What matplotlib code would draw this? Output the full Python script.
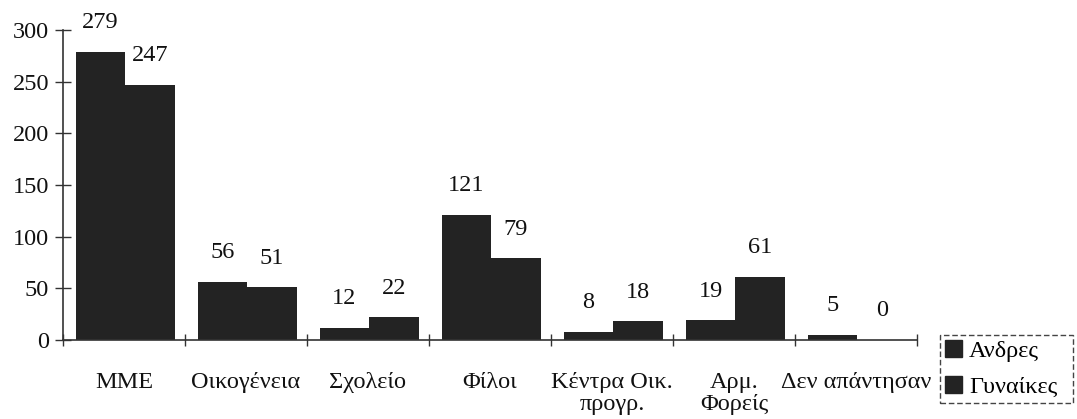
import matplotlib
matplotlib.use("Agg")
import matplotlib.pyplot as plt
from matplotlib.patches import Patch
import numpy as np

plt.rcParams['font.family'] = ['Liberation Serif', 'DejaVu Serif']

categories = ["MME", "Οικογένεια", "Σχολείο", "Φίλοι", "Κέντρα Οικ.\nπρογρ.",
              "Αρμ.\nΦορείς", "Δεν απάντησαν"]
men = [279, 56, 12, 121, 8, 19, 5]
women = [247, 51, 22, 79, 18, 61, 0]
series_names = ["Ανδρες", "Γυναίκες"]
yticks = [0, 50, 100, 150, 200, 250, 300]

bar_color = "#232323"
axis_color = "#333333"
fs = 17.5

W, H = 1077, 419
fig = plt.figure(figsize=(W / 100, H / 100), dpi=100)
ax = fig.add_axes([63 / W, 1 - 340 / H, (917 - 63) / W, 310 / H])

x = np.arange(len(categories))
bw = 0.405
b1 = ax.bar(x - bw / 2 + 0.01, men, bw, color=bar_color, linewidth=0)
b2 = ax.bar(x + bw / 2 + 0.01, women, bw, color=bar_color, linewidth=0)

for bars, vals in ((b1, men), (b2, women)):
    for rect, v in zip(bars, vals):
        ax.annotate(str(v), (rect.get_x() + rect.get_width() / 2, v),
                    xytext=(0, 21), textcoords="offset points",
                    ha="center", va="center", fontsize=fs, color="#111111")

ax.set_xlim(-0.5, len(categories) - 0.5)
ax.set_ylim(0, 300)
ax.set_yticks(yticks)
ax.set_yticklabels([str(t) for t in yticks], fontsize=fs)
ax.set_xticks(x)
ax.set_xticklabels(categories, fontsize=fs, linespacing=1.05)
ax.set_xticks(np.arange(-0.5, len(categories)), minor=True)
ax.tick_params(axis="x", which="major", length=0, pad=23, colors="#111111")
ax.tick_params(axis="x", which="minor", direction="inout", length=9,
               width=1, color=axis_color)
ax.tick_params(axis="y", direction="inout", length=12, width=1,
               color=axis_color, pad=4, labelcolor="#111111")

for side in ("top", "right"):
    ax.spines[side].set_visible(False)
for side in ("left", "bottom"):
    ax.spines[side].set_color(axis_color)
    ax.spines[side].set_linewidth(1.2)

handles = [Patch(facecolor=bar_color, edgecolor=bar_color),
           Patch(facecolor=bar_color, edgecolor=bar_color)]
leg = fig.legend(handles, series_names, loc="center",
                 bbox_to_anchor=(940 / W, 1 - 406 / H, (1073 - 940) / W, 74 / H),
                 mode="expand", fontsize=fs, frameon=True, fancybox=False,
                 handlelength=0.7, handleheight=0.7, handletextpad=0.3,
                 borderpad=0.2, labelspacing=0.6, borderaxespad=0)
frame = leg.get_frame()
frame.set_linestyle((0, (4, 2)))
frame.set_edgecolor("#444444")
frame.set_linewidth(1.0)
frame.set_facecolor("white")
frame.set_alpha(1)

fig.savefig("out.png", dpi=100, facecolor="white")
